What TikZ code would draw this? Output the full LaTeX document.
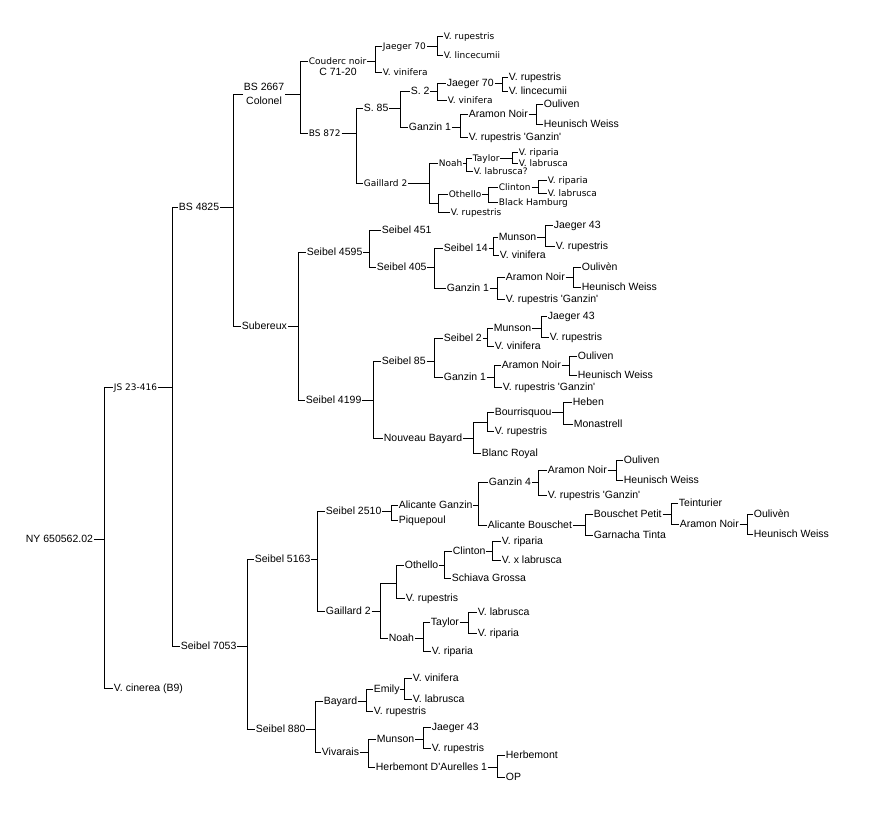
\documentclass[tikz,border=0pt]{standalone}
\usepackage{fontspec}
\newfontfamily\arialfont{Liberation Sans}
\newfontfamily\genevafont{DejaVu Sans}
\begin{document}
\begin{tikzpicture}[x=1pt,y=-1pt,line width=0.8pt,
big/.style={font=\arialfont\fontsize{10.5}{14}\selectfont, anchor=west, inner xsep=0.5pt, text height=7.5pt, text depth=0pt},
sm/.style={font=\genevafont\fontsize{9}{11}\selectfont, anchor=west, inner xsep=0.5pt, text height=6.6pt, text depth=0pt},
two/.style={font=\arialfont\fontsize{10.5}{14}\selectfont, anchor=west, inner xsep=0.5pt, align=center},
jn/.style={inner sep=0pt, minimum size=0pt}]
\useasboundingbox[fill=white] (0,0) rectangle (872,822);
\node[big] (ny) at (25,539) {NY 650562.02};
\node[sm] (js) at (113,387) {JS 23-416};
\node[big] (cin) at (113,688) {V. cinerea (B9)};
\node[big] (bs4825) at (178,207) {BS 4825};
\node[big] (s7053) at (180,646) {Seibel 7053};
\node[two] (bs2667) at (243,94) {BS 2667\\Colonel};
\node[big] (sub) at (241,326) {Subereux};
\node[sm] (couderc) at (308,61) {Couderc noir};
\node[big,anchor=center] (c7120) at (338,72) {C 71-20};
\node[sm] (bs872) at (308,133) {BS 872};
\node[sm] (j70a) at (382,46) {Jaeger 70};
\node[sm] (vin1) at (382,72) {V. vinifera};
\node[sm] (rup1) at (443,36) {V. rupestris};
\node[sm] (lin1) at (443,55) {V. lincecumii};
\node[big] (s85) at (363,108) {S. 85};
\node[sm] (gai1) at (363,183) {Gaillard 2};
\node[big] (s2) at (410,91) {S. 2};
\node[big] (gan1) at (408,127) {Ganzin 1};
\node[big] (j70b) at (446,83) {Jaeger 70};
\node[sm] (vin2) at (447,100) {V. vinifera};
\node[big] (rup2) at (508,77) {V. rupestris};
\node[big] (lin2) at (508,91) {V. lincecumii};
\node[big] (ara1) at (468,114) {Aramon Noir};
\node[big] (vrg1) at (468,137) {V. rupestris \textquotesingle Ganzin\textquotesingle};
\node[big] (oul1) at (543,104) {Ouliven};
\node[big] (heu1) at (543,124) {Heunisch Weiss};
\node[sm] (noah1) at (438,163) {Noah};
\node[jn] (jx1) at (438,203) {};
\node[sm] (tay1) at (472,158) {Taylor};
\node[sm] (lab1q) at (473,171) {V. labrusca?};
\node[sm] (rip1) at (518,152) {V. riparia};
\node[sm] (lab1) at (518,163) {V. labrusca};
\node[sm] (oth1) at (448,194) {Othello};
\node[sm] (rup3) at (450,212) {V. rupestris};
\node[sm] (cli1) at (498,187) {Clinton};
\node[sm] (bh) at (498,202) {Black Hamburg};
\node[sm] (rip2) at (547,180) {V. riparia};
\node[sm] (lab2) at (547,193) {V. labrusca};
\node[big] (s4595) at (306,252) {Seibel 4595};
\node[big] (s4199) at (305,400) {Seibel 4199};
\node[big] (s451) at (381,230) {Seibel 451};
\node[big] (s405) at (376,267) {Seibel 405};
\node[big] (s14) at (443,248) {Seibel 14};
\node[big] (gan2) at (446,288) {Ganzin 1};
\node[big] (mun1) at (498,237) {Munson};
\node[big] (vin3) at (499,255) {V. vinifera};
\node[big] (j43a) at (553,225) {Jaeger 43};
\node[big] (rup4) at (555,246) {V. rupestris};
\node[big] (ara2) at (505,277) {Aramon Noir};
\node[big] (vrg2) at (505,299) {V. rupestris \textquotesingle Ganzin\textquotesingle};
\node[big] (oul2) at (581,267) {Oulivèn};
\node[big] (heu2) at (581,287) {Heunisch Weiss};
\node[big] (s85b) at (381,361) {Seibel 85};
\node[big] (nb) at (383,438) {Nouveau Bayard};
\node[big] (s2b) at (443,338) {Seibel 2};
\node[big] (gan3) at (443,377) {Ganzin 1};
\node[big] (mun2) at (493,328) {Munson};
\node[big] (vin4) at (494,346) {V. vinifera};
\node[big] (j43b) at (547,316) {Jaeger 43};
\node[big] (rup5) at (549,337) {V. rupestris};
\node[big] (ara3) at (501,365) {Aramon Noir};
\node[big] (vrg3) at (502,387) {V. rupestris \textquotesingle Ganzin\textquotesingle};
\node[big] (oul3) at (577,356) {Ouliven};
\node[big] (heu3) at (577,375) {Heunisch Weiss};
\node[jn] (jx2) at (487,422) {};
\node[big] (br) at (481,453) {Blanc Royal};
\node[big] (bou) at (494,412) {Bourrisquou};
\node[big] (rup6) at (494,431) {V. rupestris};
\node[big] (heb) at (572,402) {Heben};
\node[big] (mon) at (573,424) {Monastrell};
\node[big] (s5163) at (254,559) {Seibel 5163};
\node[big] (s880) at (255,729) {Seibel 880};
\node[big] (s2510) at (325,511) {Seibel 2510};
\node[big] (gai2) at (325,611) {Gaillard 2};
\node[big] (ag) at (398,505) {Alicante Ganzin};
\node[big] (piq) at (398,520) {Piquepoul};
\node[big] (gan4) at (488,482) {Ganzin 4};
\node[big] (ab) at (487,525) {Alicante Bouschet};
\node[big] (ara4) at (547,470) {Aramon Noir};
\node[big] (vrg4) at (547,495) {V. rupestris \textquotesingle Ganzin\textquotesingle};
\node[big] (oul4) at (623,460) {Ouliven};
\node[big] (heu4) at (623,480) {Heunisch Weiss};
\node[big] (bp) at (593,514) {Bouschet Petit};
\node[big] (gt) at (593,535) {Garnacha Tinta};
\node[big] (tei) at (678,503) {Teinturier};
\node[big] (ara5) at (679,524) {Aramon Noir};
\node[big] (oul5) at (753,514) {Oulivèn};
\node[big] (heu5) at (753,534) {Heunisch Weiss};
\node[jn] (jx3) at (396,583) {};
\node[big] (noah2) at (388,638) {Noah};
\node[big] (oth2) at (404,565) {Othello};
\node[big] (rup7) at (405,598) {V. rupestris};
\node[big] (cli2) at (452,551) {Clinton};
\node[big] (sg) at (451,578) {Schiava Grossa};
\node[big] (rip3) at (501,541) {V. riparia};
\node[big] (xlab) at (501,560) {V. x labrusca};
\node[big] (tay2) at (430,622) {Taylor};
\node[big] (rip5) at (431,651) {V. riparia};
\node[big] (lab3) at (477,612) {V. labrusca};
\node[big] (rip4) at (477,633) {V. riparia};
\node[big] (bay) at (323,701) {Bayard};
\node[big] (viv) at (321,752) {Vivarais};
\node[big] (emi) at (373,689) {Emily};
\node[big] (rup8) at (373,711) {V. rupestris};
\node[big] (vin5) at (412,678) {V. vinifera};
\node[big] (lab4) at (412,699) {V. labrusca};
\node[big] (mun3) at (376,739) {Munson};
\node[big] (hda) at (375,767) {Herbemont D\textquotesingle Aurelles 1};
\node[big] (j43c) at (431,727) {Jaeger 43};
\node[big] (rup9) at (431,748) {V. rupestris};
\node[big] (her) at (505,755) {Herbemont};
\node[big] (op) at (505,777) {OP};
\foreach \pa/\bx/\ca/\cb in {ny/104/js/cin, js/172/bs4825/s7053, bs4825/233/bs2667/sub,
  bs2667/300/couderc/bs872, couderc/375/j70a/vin1, j70a/437/rup1/lin1, bs872/356/s85/gai1,
  s85/400/s2/gan1, s2/437/j70b/vin2, j70b/502/rup2/lin2, gan1/460/ara1/vrg1, ara1/536/oul1/heu1,
  gai1/429/noah1/jx1, noah1/466/tay1/lab1q, tay1/512/rip1/lab1, jx1/438/oth1/rup3,
  oth1/488/cli1/bh, cli1/538/rip2/lab2,
  sub/298/s4595/s4199, s4595/369/s451/s405, s405/434/s14/gan2, s14/493/mun1/vin3,
  mun1/545/j43a/rup4, gan2/497/ara2/vrg2, ara2/573/oul2/heu2, s4199/373/s85b/nb,
  s85b/434/s2b/gan3, s2b/487/mun2/vin4, mun2/541/j43b/rup5, gan3/494/ara3/vrg3,
  ara3/569/oul3/heu3, nb/473/jx2/br, jx2/487/bou/rup6, bou/563/heb/mon,
  s7053/247/s5163/s880, s5163/317/s2510/gai2, s2510/391/ag/piq, ag/478/gan4/ab,
  gan4/538/ara4/vrg4, ara4/616/oul4/heu4, ab/585/bp/gt, bp/671/tei/ara5, ara5/747/oul5/heu5,
  gai2/380/jx3/noah2, jx3/396/oth2/rup7, oth2/444/cli2/sg, cli2/492/rip3/xlab,
  noah2/423/tay2/rip5, tay2/468/lab3/rip4,
  s880/315/bay/viv, bay/366/emi/rup8, emi/404/vin5/lab4, viv/368/mun3/hda,
  mun3/423/j43c/rup9, hda/497/her/op}{
  \coordinate (bar) at (\bx,0);
  \draw (\ca.west) -- (bar |- \ca.west) -- (bar |- \cb.west) -- (\cb.west);
  \draw (\pa.east) -- (bar |- \pa.east);
}
\end{tikzpicture}
\end{document}
